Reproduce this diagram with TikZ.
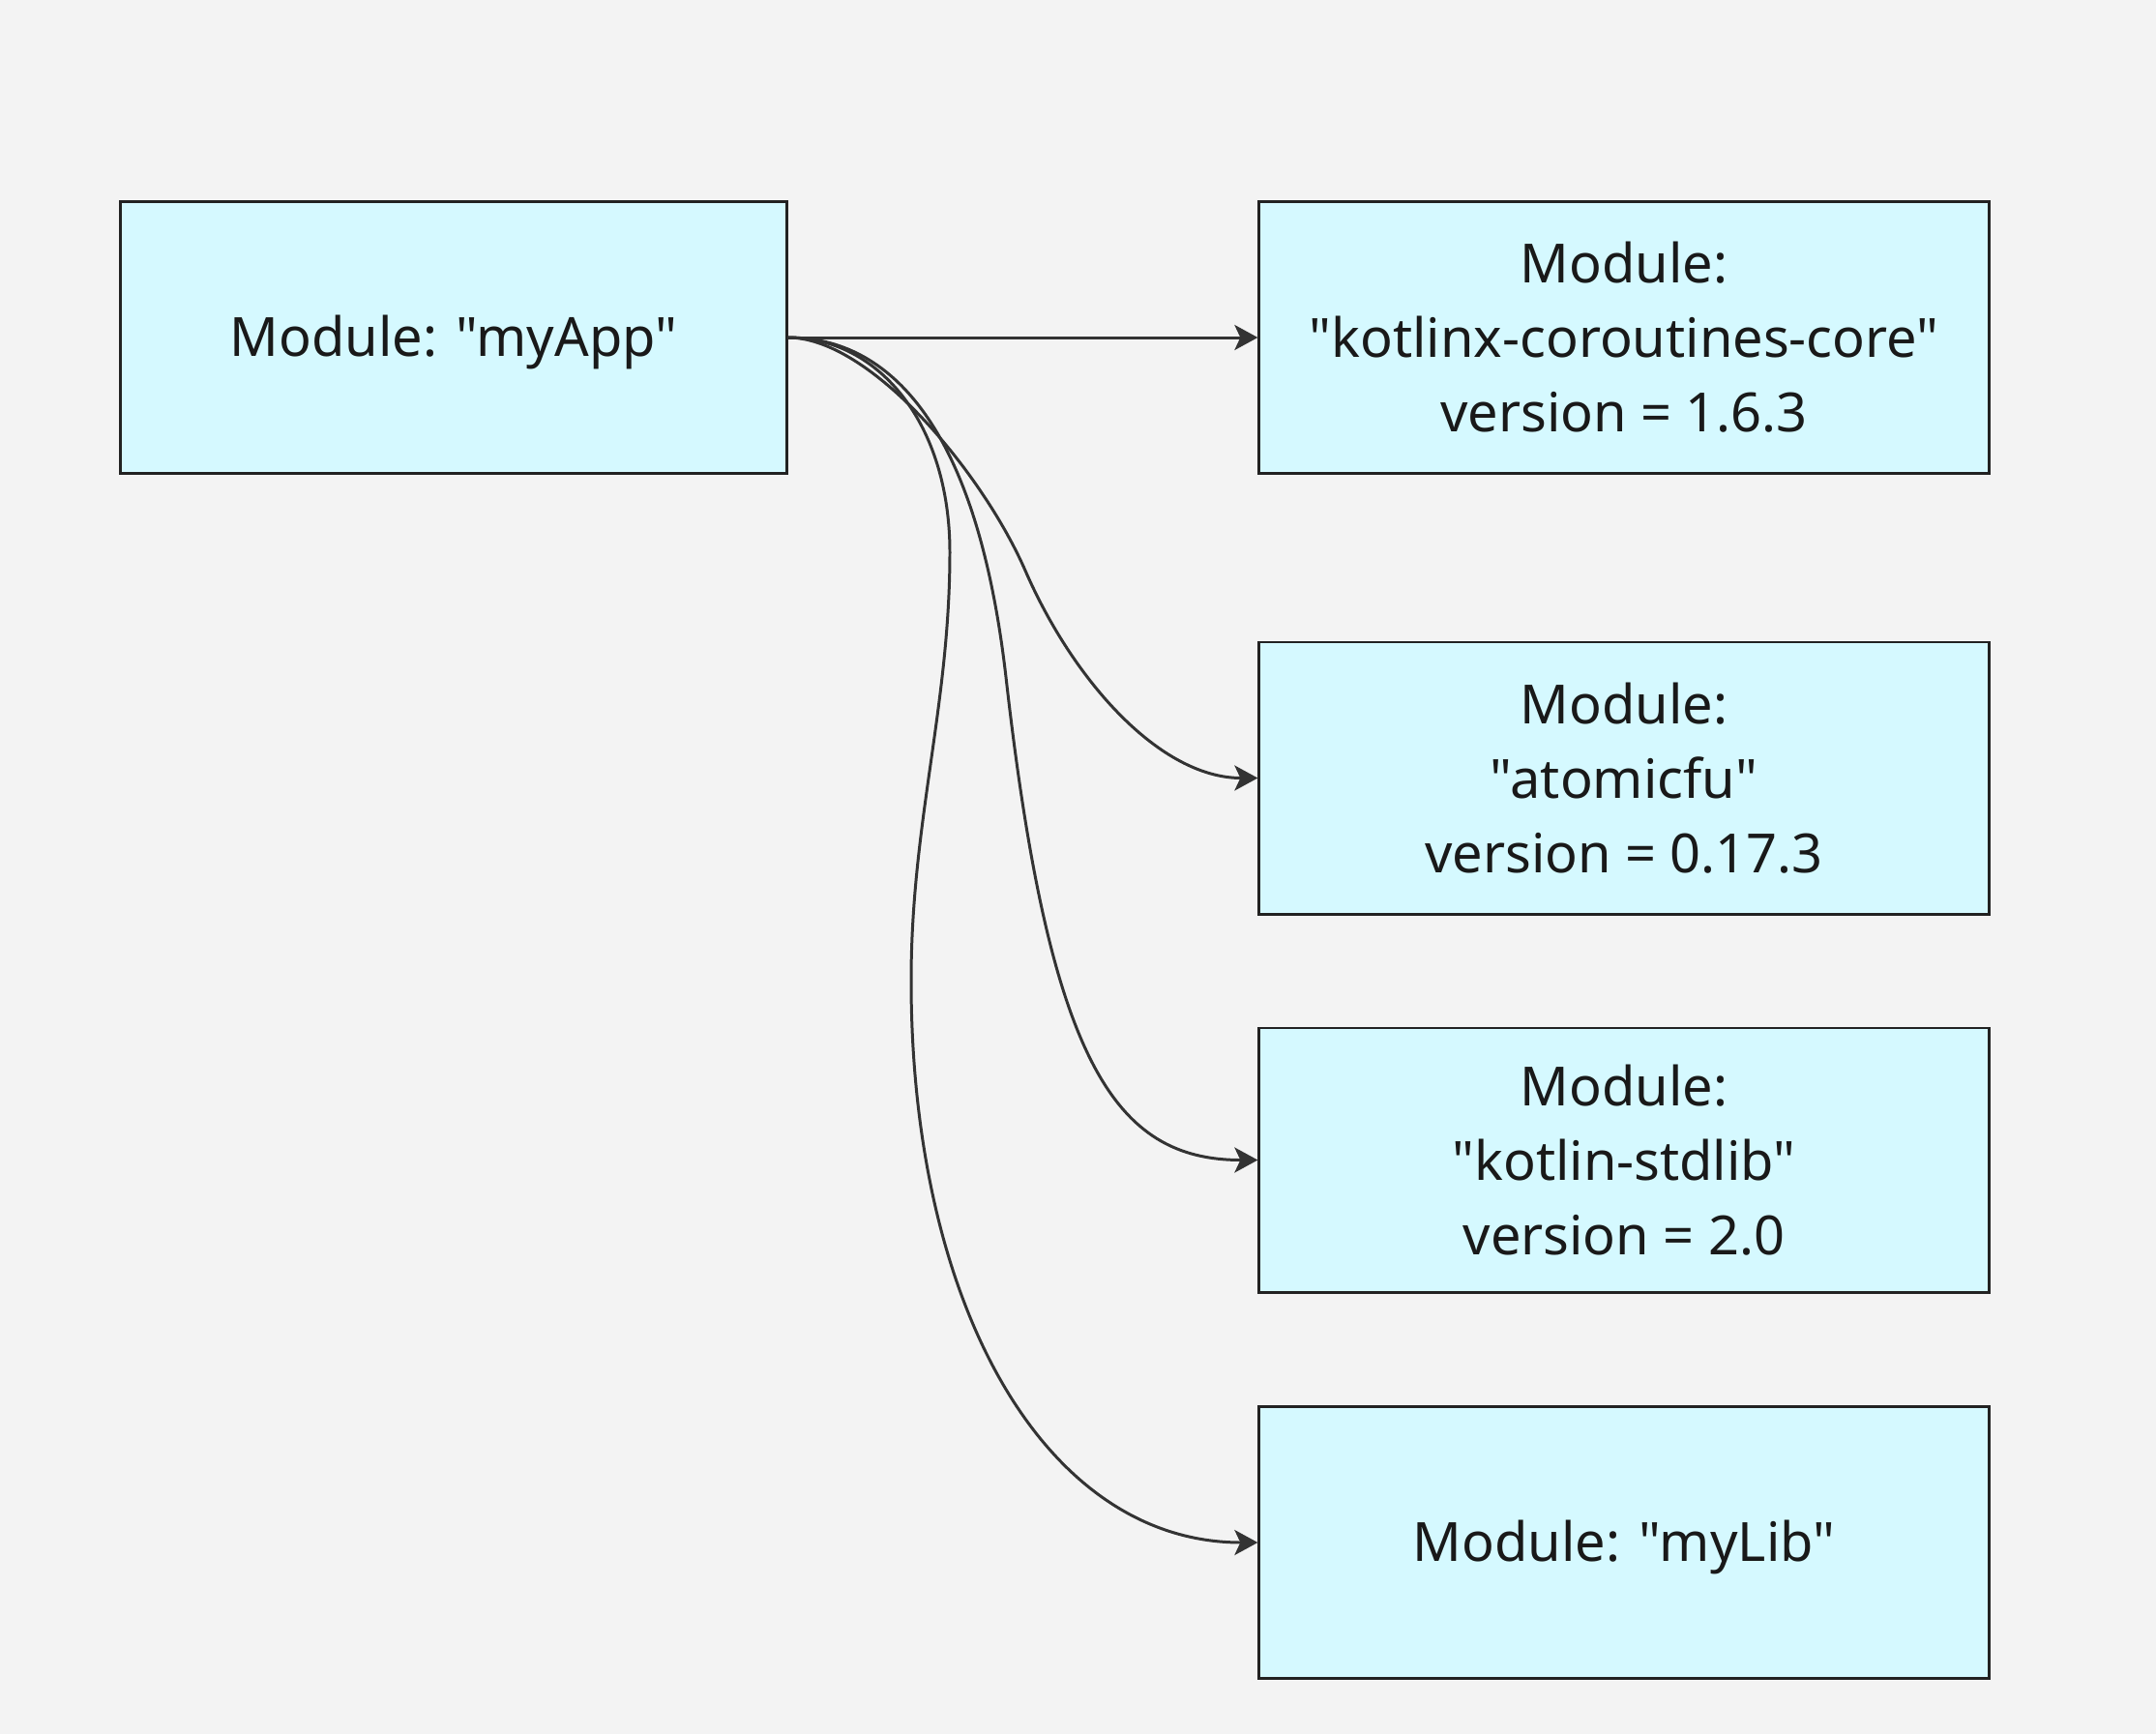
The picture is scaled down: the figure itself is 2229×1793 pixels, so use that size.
\documentclass[tikz,border=0pt]{standalone}
\usepackage{fontspec}
\setmainfont{Noto Sans}[Ligatures=TeXOff]
\usetikzlibrary{arrows.meta}
\definecolor{bgc}{RGB}{243,243,243}
\definecolor{boxfill}{RGB}{213,249,255}
\definecolor{boxline}{RGB}{34,34,34}
\definecolor{edgec}{RGB}{51,51,51}
\tikzset{
  modbox/.style={draw=boxline, fill=boxfill, line width=0.8pt, inner sep=0pt,
    minimum height=2.81cm, align=center,
    font=\fontsize{15.9pt}{21.9pt}\selectfont, text=black!90},
  oneline/.style={text height=11.35pt, text depth=0pt},
  dep/.style={draw=edgec, line width=0.85pt,
    -{Stealth[length=0.24cm, width=0.26cm, inset=0.06cm]}},
}
\begin{document}
\begin{tikzpicture}[x=0.01cm, y=-0.01cm]
\fill[bgc] (0,0) rectangle (2229,1793);
\useasboundingbox (0,0) rectangle (2229,1793);

\node[modbox, oneline, minimum width=6.88cm] (app) at (469,349) {Module: "myApp"};
\node[modbox, minimum width=7.54cm] (kcc) at (1679,349) {Module:\\"kotlinx-coroutines-core"\\version = 1.6.3};
\node[modbox, minimum width=7.54cm] (afu) at (1679,804.5) {Module:\\"atomicfu"\\version = 0.17.3};
\node[modbox, minimum width=7.54cm, minimum height=2.73cm] (std) at (1679,1199.5) {Module:\\"kotlin-stdlib"\\version = 2.0};
\node[modbox, oneline, minimum width=7.54cm] (lib) at (1679,1595) {Module: "myLib"};

\coordinate (a1) at (1060,590);
\coordinate (s1) at (1040,700);
\coordinate (l1) at (982,571);
\coordinate (l2) at (942,1014);

\draw[dep] (app.east) -- (kcc.west);
\draw[dep] (app.east) .. controls (900,349) and (1016,489) .. (a1)
  .. controls (1110,705) and (1200,804.5) .. (afu.west);
\draw[dep] (app.east) .. controls (920,349) and (1010,440) .. (s1)
  .. controls (1085,1098) and (1152,1199.5) .. (std.west);
\draw[dep] (app.east) .. controls (910,349) and (982,440) .. (l1)
  .. controls (982,730) and (942,850) .. (l2)
  .. controls (942,1350) and (1080,1595) .. (lib.west);
\end{tikzpicture}
\end{document}
